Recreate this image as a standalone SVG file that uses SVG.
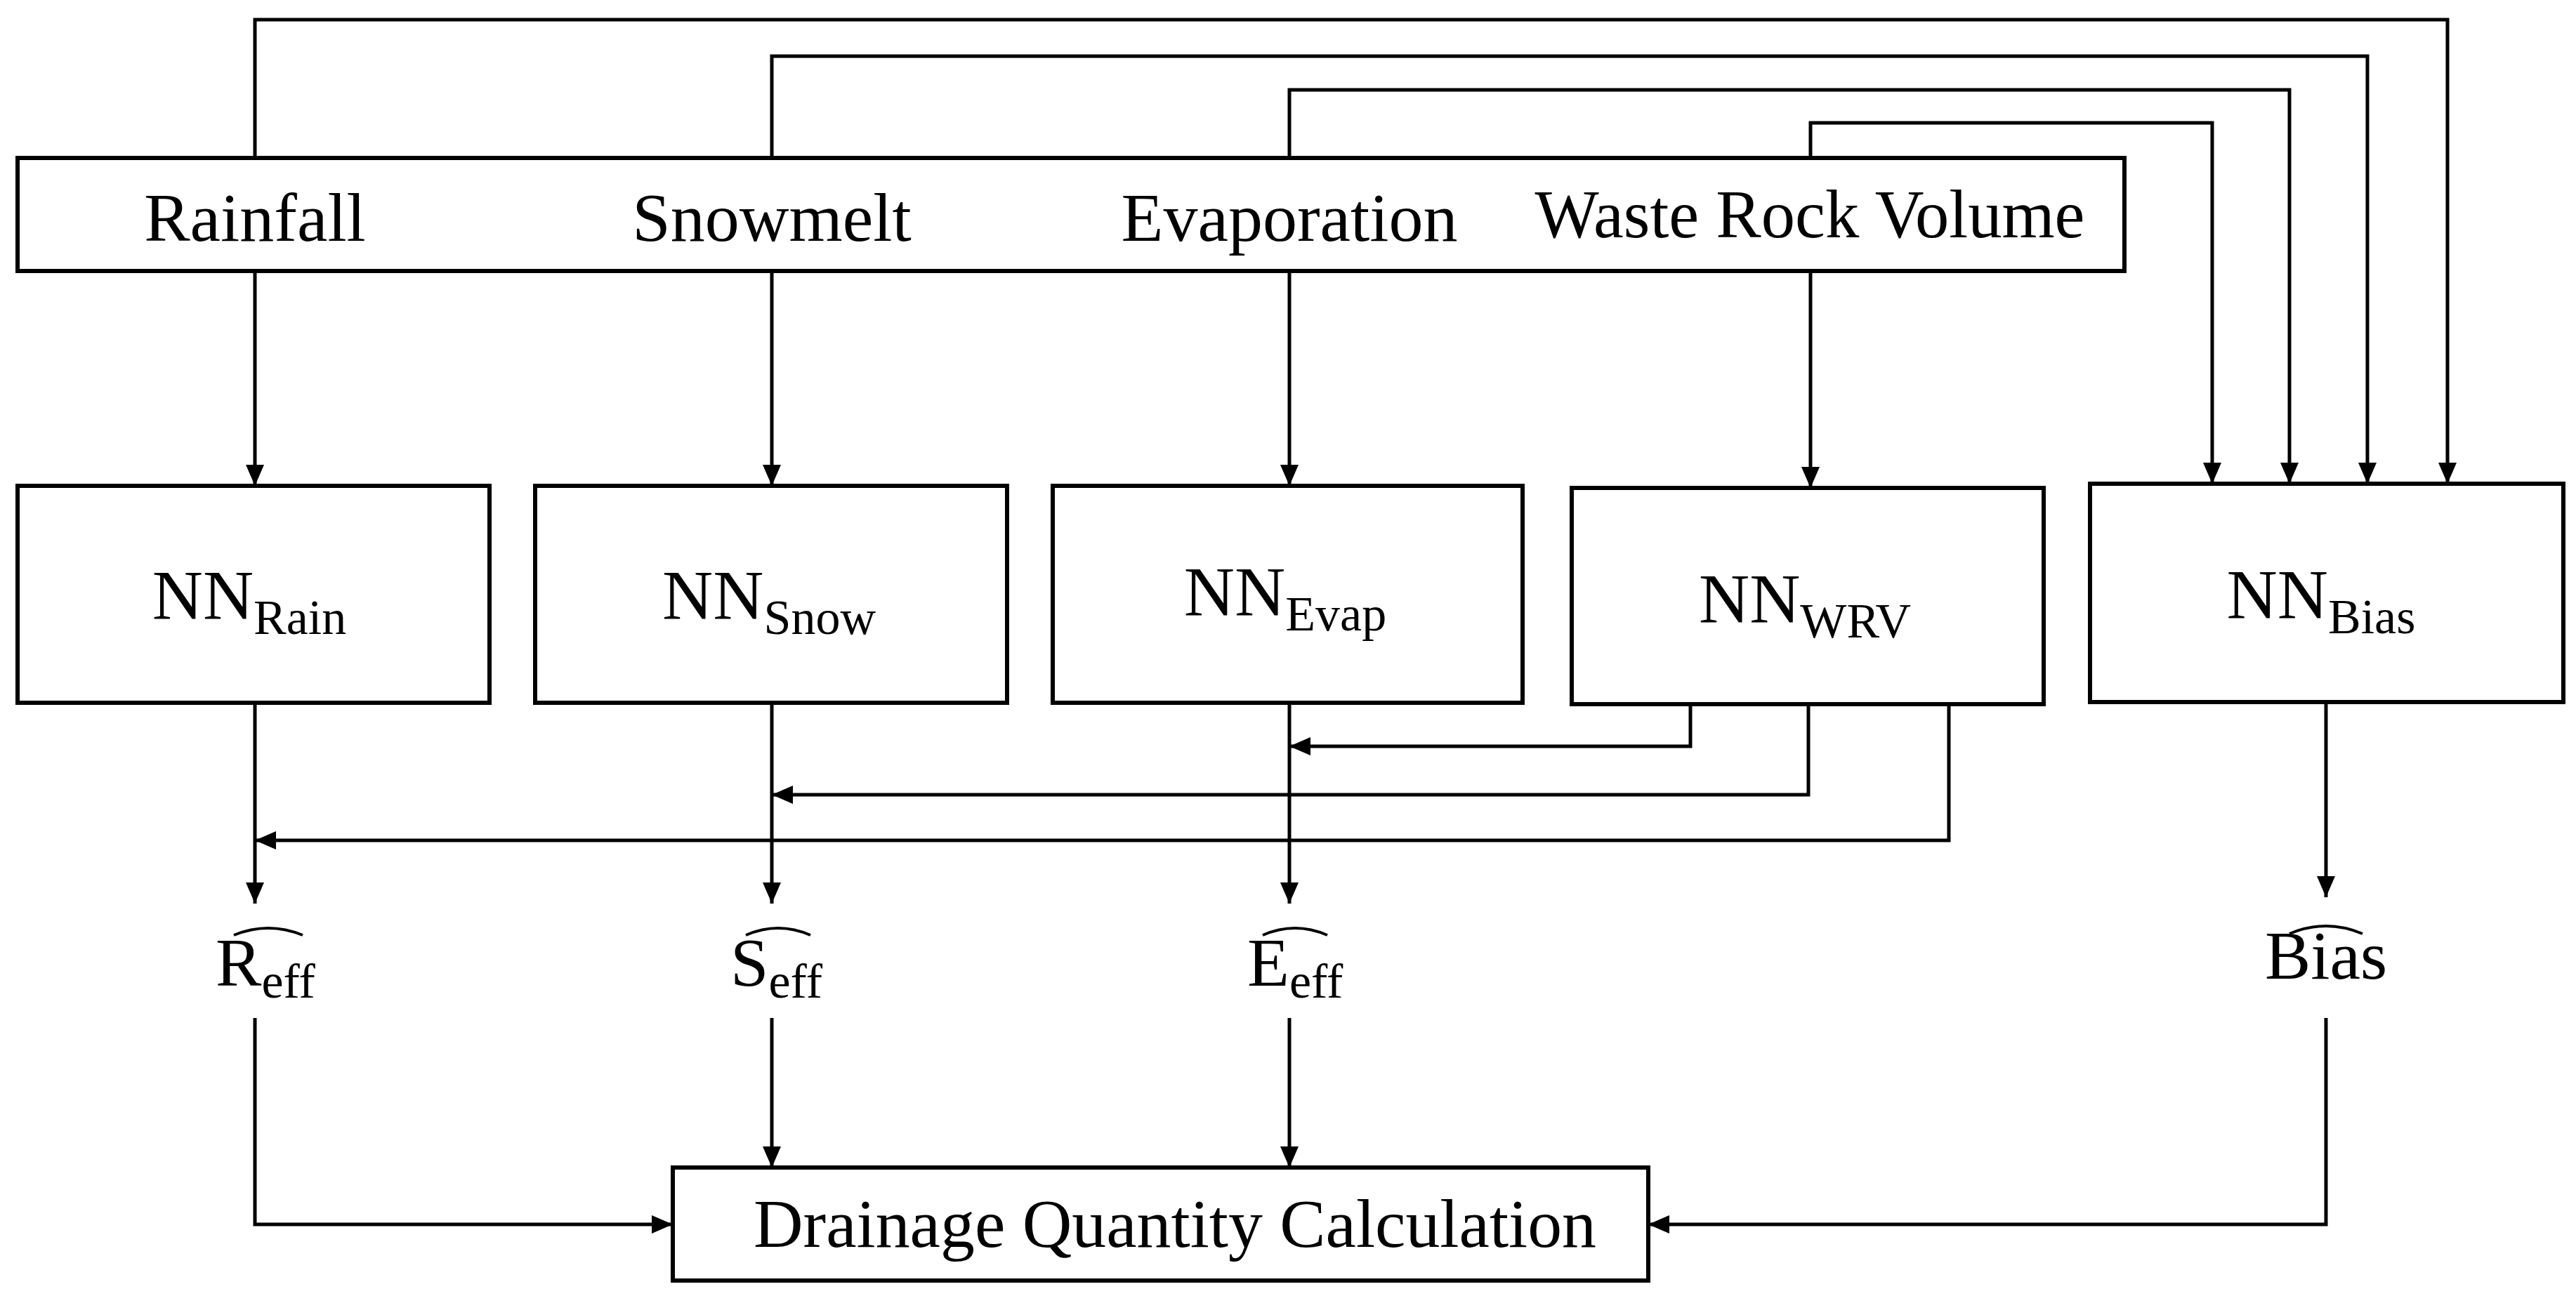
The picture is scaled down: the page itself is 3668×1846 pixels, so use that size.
<svg xmlns="http://www.w3.org/2000/svg" width="3668" height="1846" viewBox="0 0 3668 1846">
<style>
.b{fill:#fff;stroke:#000;stroke-width:6}
.c{fill:none;stroke:#000;stroke-width:5}
.t{font-family:"Liberation Serif",serif;font-size:98px;fill:#000}
.n{font-family:"Liberation Serif",serif;font-size:100px;fill:#000;text-anchor:middle}
.s{font-size:70px}
.h{fill:none;stroke:#000;stroke-width:4}
</style>
<defs>
<marker id="a" markerUnits="userSpaceOnUse" markerWidth="30" markerHeight="26" refX="30" refY="13" orient="auto">
<path d="M0,0 L30,13 L0,26 Z" fill="#000"/>
</marker>
</defs>
<g id="connectors">
<path class="c" d="M363,225 V28 H3485 V689" marker-end="url(#a)"/>
<path class="c" d="M1099,225 V80 H3371 V689" marker-end="url(#a)"/>
<path class="c" d="M1836,225 V128 H3260 V689" marker-end="url(#a)"/>
<path class="c" d="M2578,225 V175 H3150 V689" marker-end="url(#a)"/>
<path class="c" d="M363,386 V692" marker-end="url(#a)"/>
<path class="c" d="M1099,386 V692" marker-end="url(#a)"/>
<path class="c" d="M1836,386 V692" marker-end="url(#a)"/>
<path class="c" d="M2578,386 V695" marker-end="url(#a)"/>
<path class="c" d="M363,1001 V1287" marker-end="url(#a)"/>
<path class="c" d="M1099,1001 V1287" marker-end="url(#a)"/>
<path class="c" d="M1836,1001 V1287" marker-end="url(#a)"/>
<path class="c" d="M3312,1000 V1278" marker-end="url(#a)"/>
<path class="c" d="M2407,1003 V1063 H1836" marker-end="url(#a)"/>
<path class="c" d="M2575,1003 V1132 H1099" marker-end="url(#a)"/>
<path class="c" d="M2775,1003 V1197 H363" marker-end="url(#a)"/>
<path class="c" d="M363,1450 V1744 H958" marker-end="url(#a)"/>
<path class="c" d="M1099,1450 V1663" marker-end="url(#a)"/>
<path class="c" d="M1836,1450 V1663" marker-end="url(#a)"/>
<path class="c" d="M3312,1450 V1744 H2347" marker-end="url(#a)"/>
</g>
<g id="inputs">
<rect class="b" x="25" y="225" width="3000" height="161"/>
<text class="t" x="363" y="343" text-anchor="middle">Rainfall</text>
<text class="t" x="1099" y="343" text-anchor="middle">Snowmelt</text>
<text class="t" x="1836" y="343" text-anchor="middle">Evaporation</text>
<text class="t" x="2577" y="338" text-anchor="middle" textLength="783" lengthAdjust="spacingAndGlyphs">Waste Rock Volume</text>
</g>
<g id="nn-rain"><rect class="b" x="25" y="692" width="672" height="309"/><text class="n" x="355" y="881">NN<tspan class="s" dy="22">Rain</tspan></text></g>
<g id="nn-snow"><rect class="b" x="762" y="692" width="672" height="309"/><text class="n" x="1095" y="881">NN<tspan class="s" dy="22">Snow</tspan></text></g>
<g id="nn-evap"><rect class="b" x="1499" y="692" width="669" height="309"/><text class="n" x="1830" y="876">NN<tspan class="s" dy="22">Evap</tspan></text></g>
<g id="nn-wrv"><rect class="b" x="2238" y="695" width="672" height="308"/><text class="n" x="2570" y="886">NN<tspan class="s" dy="22">WRV</tspan></text></g>
<g id="nn-bias"><rect class="b" x="2976" y="689" width="674" height="311"/><text class="n" x="3305" y="880">NN<tspan class="s" dy="22">Bias</tspan></text></g>
<g id="r-eff"><text class="t" x="307" y="1404">R<tspan class="s" dy="17">eff</tspan></text><path class="h" d="M333,1332 Q382,1312 431,1332"/></g>
<g id="s-eff"><text class="t" x="1040" y="1404">S<tspan class="s" dy="17">eff</tspan></text><path class="h" d="M1062,1332 Q1108,1312 1154,1332"/></g>
<g id="e-eff"><text class="t" x="1776" y="1404">E<tspan class="s" dy="17">eff</tspan></text><path class="h" d="M1798,1332 Q1844,1312 1890,1332"/></g>
<g id="bias"><text class="t" x="3312" y="1394" text-anchor="middle">Bias</text><path class="h" d="M3260,1330 Q3312,1308 3364,1330"/></g>
<g id="drainage">
<rect class="b" x="958" y="1663" width="1389" height="161"/>
<text class="t" x="1673" y="1776" text-anchor="middle" textLength="1200" lengthAdjust="spacingAndGlyphs">Drainage Quantity Calculation</text>
</g>
</svg>
